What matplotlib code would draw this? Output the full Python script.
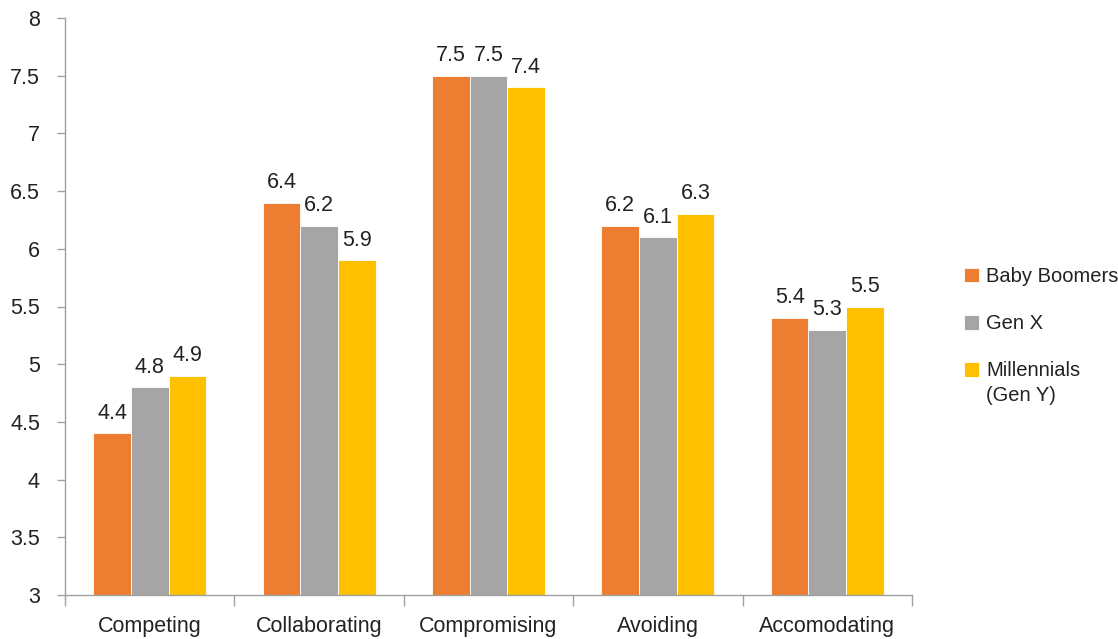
import matplotlib
matplotlib.use("Agg")
import matplotlib.pyplot as plt
import numpy as np

categories = ["Competing", "Collaborating", "Compromising", "Avoiding", "Accomodating"]
series_names = ["Baby Boomers", "Gen X", "Millennials"]
series_note = "(Gen Y)"
baby_boomers = [4.4, 6.4, 7.5, 6.2, 5.4]
gen_x = [4.8, 6.2, 7.5, 6.1, 5.3]
millennials = [4.9, 5.9, 7.4, 6.3, 5.5]
colors = ["#ED7D31", "#A5A5A5", "#FFC000"]
yticks = [3, 3.5, 4, 4.5, 5, 5.5, 6, 6.5, 7, 7.5, 8]
ytick_labels = ["3", "3.5", "4", "4.5", "5", "5.5", "6", "6.5", "7", "7.5", "8"]

plt.rcParams['font.family'] = ['Liberation Sans', 'DejaVu Sans']
FS = 15.5
LFS = 14.5
TC = "#222222"

fig = plt.figure(figsize=(11.18, 6.39), dpi=100)
ax = fig.add_axes([65/1118, 1-595/639, (912-65)/1118, (595-18)/639])

x = np.arange(len(categories))
w = 0.222
data = [baby_boomers, gen_x, millennials]
handles = []
for i, (vals, c, name) in enumerate(zip(data, colors, series_names)):
    pos = x + (i - 1) * w
    b = ax.bar(pos, np.array(vals) - 3, bottom=3, width=w, color=c,
               edgecolor="white", linewidth=0.6, label=name)
    handles.append(b)
    for p, v in zip(pos, vals):
        ax.annotate(f"{v:g}", (p, v), xytext=(0, 7), textcoords="offset points",
                    ha="center", va="bottom", fontsize=FS, color=TC)

ax.set_xlim(-0.5, len(categories) - 0.5)
ax.set_ylim(3, 8)
ax.set_yticks(yticks)
ax.set_yticklabels(ytick_labels, fontsize=FS, color=TC)
ax.set_xticks(x)
ax.set_xticklabels(categories, fontsize=FS, color=TC)
ax.tick_params(axis="x", length=0, pad=15)
ax.set_xticks(np.arange(-0.5, len(categories)), minor=True)
ax.tick_params(axis="x", which="minor", length=8, color="#A0A0A0", width=1)
ax.tick_params(axis="y", length=6, color="#A0A0A0", width=1, pad=12)

for s in ["top", "right"]:
    ax.spines[s].set_visible(False)
for s in ["left", "bottom"]:
    ax.spines[s].set_color("#A0A0A0")
    ax.spines[s].set_linewidth(1)

leg = fig.legend(handles=handles, labels=series_names, loc="upper left",
                 bbox_to_anchor=(956/1118, 1-259/639), frameon=False,
                 fontsize=LFS, handlelength=0.75, handleheight=0.75,
                 handletextpad=0.35, labelspacing=1.4, borderaxespad=0)
for t in leg.get_texts():
    t.set_color(TC)

fig.canvas.draw()
last = leg.get_texts()[-1]
bb = last.get_window_extent().transformed(fig.transFigure.inverted())
fig.text(bb.x0, bb.y0 - 25/639, series_note, fontsize=LFS, color=TC,
         ha="left", va="bottom")

fig.savefig("out.png", dpi=100)
